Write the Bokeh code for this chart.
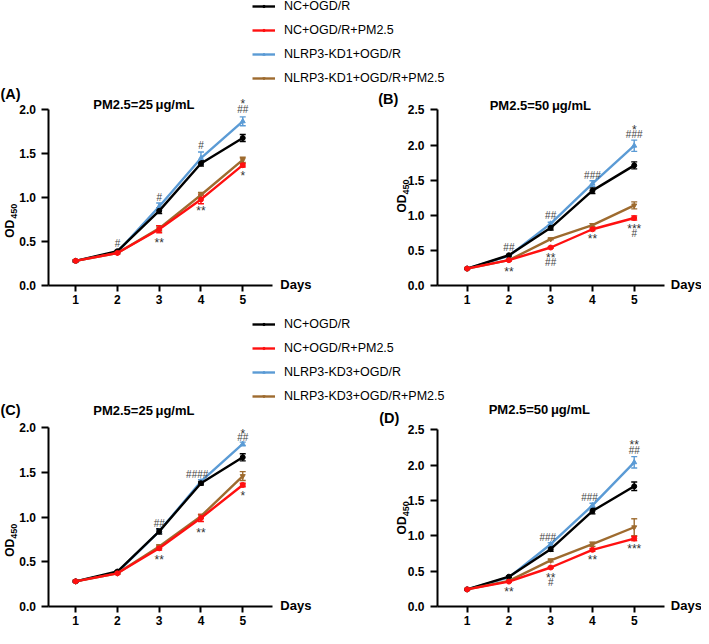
import math
from bokeh.plotting import figure
from bokeh.models import (ColumnDataSource, Range1d, Whisker, TeeHead, Label,
                          Legend, LegendItem, PrintfTickFormatter)
from bokeh.layouts import column, row
from bokeh.embed import file_html
from bokeh.resources import INLINE
from bokeh.core.properties import value

# ---------------- data ----------------
days = [1, 2, 3, 4, 5]
groups_kd1 = ["NC+OGD/R", "NC+OGD/R+PM2.5", "NLRP3-KD1+OGD/R", "NLRP3-KD1+OGD/R+PM2.5"]
groups_kd3 = ["NC+OGD/R", "NC+OGD/R+PM2.5", "NLRP3-KD3+OGD/R", "NLRP3-KD3+OGD/R+PM2.5"]

# Panel A: KD1, PM2.5 = 25 ug/mL
a_nc = [0.28, 0.39, 0.85, 1.39, 1.68]
a_nc_err = [0.01, 0.01, 0.03, 0.03, 0.04]
a_ncpm = [0.28, 0.37, 0.64, 0.98, 1.37]
a_ncpm_err = [0.01, 0.01, 0.04, 0.05, 0.02]
a_kd = [0.28, 0.38, 0.90, 1.45, 1.87]
a_kd_err = [0.01, 0.01, 0.04, 0.07, 0.05]
a_kdpm = [0.28, 0.37, 0.65, 1.03, 1.43]
a_kdpm_err = [0.01, 0.01, 0.03, 0.03, 0.03]

# Panel B: KD1, PM2.5 = 50 ug/mL
b_nc = [0.24, 0.43, 0.82, 1.35, 1.71]
b_nc_err = [0.01, 0.01, 0.03, 0.04, 0.05]
b_ncpm = [0.24, 0.36, 0.54, 0.80, 0.96]
b_ncpm_err = [0.01, 0.01, 0.01, 0.02, 0.03]
b_kd = [0.24, 0.42, 0.88, 1.45, 1.99]
b_kd_err = [0.01, 0.01, 0.02, 0.04, 0.08]
b_kdpm = [0.24, 0.36, 0.66, 0.86, 1.14]
b_kdpm_err = [0.01, 0.01, 0.01, 0.02, 0.05]

# Panel C: KD3, PM2.5 = 25 ug/mL
c_nc = [0.28, 0.39, 0.84, 1.38, 1.67]
c_nc_err = [0.01, 0.01, 0.03, 0.02, 0.04]
c_ncpm = [0.28, 0.37, 0.65, 0.99, 1.36]
c_ncpm_err = [0.01, 0.01, 0.02, 0.04, 0.02]
c_kd = [0.28, 0.38, 0.84, 1.40, 1.82]
c_kd_err = [0.01, 0.01, 0.02, 0.02, 0.02]
c_kdpm = [0.28, 0.37, 0.67, 1.01, 1.46]
c_kdpm_err = [0.01, 0.01, 0.02, 0.02, 0.05]

# Panel D: KD3, PM2.5 = 50 ug/mL
d_nc = [0.24, 0.42, 0.81, 1.35, 1.70]
d_nc_err = [0.01, 0.01, 0.03, 0.04, 0.06]
d_ncpm = [0.24, 0.35, 0.55, 0.80, 0.96]
d_ncpm_err = [0.01, 0.01, 0.01, 0.02, 0.03]
d_kd = [0.24, 0.41, 0.88, 1.43, 2.04]
d_kd_err = [0.01, 0.01, 0.02, 0.03, 0.08]
d_kdpm = [0.24, 0.36, 0.65, 0.88, 1.12]
d_kdpm_err = [0.01, 0.01, 0.02, 0.03, 0.12]

# significance marks (day, OD, text)
a_stars = [(3, 0.52, "**"), (4, 0.88, "**"), (5, 2.10, "*"), (5, 1.285, "*")]
a_hashes = [(2, 0.48, "#"), (3, 1.00, "#"), (4, 1.60, "#"), (5, 2.00, "##")]
b_stars = [(2, 0.24, "**"), (3, 0.435, "**"), (4, 0.70, "**"), (5, 2.26, "*"), (5, 0.84, "***")]
b_hashes = [(2, 0.54, "##"), (3, 1.00, "##"), (3, 0.33, "##"), (4, 1.57, "###"),
            (5, 2.15, "###"), (5, 0.735, "#")]
c_stars = [(3, 0.55, "**"), (4, 0.86, "**"), (5, 1.97, "*"), (5, 1.27, "*")]
c_hashes = [(3, 0.93, "##"), (3.91, 1.48, "####"), (5, 1.89, "##")]
d_stars = [(2, 0.245, "**"), (3, 0.44, "**"), (4, 0.705, "**"), (5, 2.33, "**"), (5, 0.85, "***")]
d_hashes = [(2.93, 0.98, "###"), (3, 0.34, "#"), (3.93, 1.54, "###"), (5, 2.21, "##")]

y_ticks_25 = [0.0, 0.5, 1.0, 1.5, 2.0]
y_ticks_50 = [0.0, 0.5, 1.0, 1.5, 2.0, 2.5]
title_25 = "PM2.5=25\u2009\u03bcg/mL"
title_50 = "PM2.5=50\u2009\u03bcg/mL"
x_title = "Days"
y_title = "OD"
y_title_sub = "450"

# ---------------- style ----------------
COLORS = ["#000000", "#ff1010", "#5b9bd5", "#9e6b2f"]
MARKERS = ["circle", "circle", "triangle", "inverted_triangle"]
DRAW_ORDER = [2, 0, 3, 1]
FONT = "Liberation Sans"
TOTAL_W, TOTAL_H = 701, 628
SX = TOTAL_W / 709
SY = TOTAL_H / 644


def build_panel(geo, series, errs, yticks, stars, hashes, letter, title, lab):
    fx0, fy0, fx1, fy1 = geo["fig"]
    W, H = geo["W"], geo["H"]
    ppd_ref = (geo["d5"] - geo["d1"]) / 4
    ppu_ref = (geo["y0"] - geo["ytick_px"]) / geo["ytick_val"]

    def to_data(px, py):
        return (1 + (px - geo["d1"]) / ppd_ref, (geo["y0"] - py) / ppu_ref)

    x_start = to_data(fx0, 0)[0]
    x_end = x_start + W / (ppd_ref * SX)
    y_top = to_data(0, fy0)[1]
    y_bot = y_top - H / (ppu_ref * SY)
    ax_x = to_data(geo["axis_x"], 0)[0]
    ax_end = to_data(geo["axis_end"], 0)[0]

    p = figure(width=W, height=H, x_range=Range1d(x_start, x_end),
               y_range=Range1d(y_bot, y_top), output_backend="svg",
               toolbar_location=None, title=None, min_border=0,
               min_border_left=0, min_border_right=0,
               min_border_top=0, min_border_bottom=0)
    p.outline_line_color = None
    p.xgrid.visible = False
    p.ygrid.visible = False
    p.background_fill_color = "white"
    p.border_fill_color = "white"

    xa = p.xaxis[0]
    xa.fixed_location = 0
    xa.bounds = (ax_x, ax_end)
    xa.ticker = days
    xa.major_tick_out = 6
    xa.major_tick_in = 0
    xa.minor_tick_line_color = None
    xa.axis_line_width = 2
    xa.major_tick_line_width = 2
    xa.major_label_standoff = 4
    xa.major_label_text_font = FONT
    xa.major_label_text_font_style = "bold"
    xa.major_label_text_font_size = "12px"
    xa.major_label_text_color = "black"

    ya = p.yaxis[0]
    ya.fixed_location = ax_x
    ya.ticker = yticks
    ya.formatter = PrintfTickFormatter(format="%.1f")
    ya.bounds = (0, yticks[-1])
    ya.major_tick_out = 7
    ya.major_tick_in = 0
    ya.minor_tick_line_color = None
    ya.axis_line_width = 2
    ya.major_tick_line_width = 2
    ya.major_label_standoff = 6
    ya.major_label_text_font = FONT
    ya.major_label_text_font_style = "bold"
    ya.major_label_text_font_size = "12px"
    ya.major_label_text_color = "black"

    for i in DRAW_ORDER:
        vals, err = series[i], errs[i]
        src = ColumnDataSource(dict(x=days, y=vals,
                                    upper=[v + e for v, e in zip(vals, err)],
                                    lower=[v - e for v, e in zip(vals, err)]))
        c = COLORS[i]
        p.line("x", "y", source=src, line_color=c, line_width=2.4)
        p.add_layout(Whisker(source=src, base="x", upper="upper", lower="lower",
                             line_color=c, line_width=1.4,
                             upper_head=TeeHead(size=6, line_color=c, line_width=1.4),
                             lower_head=TeeHead(size=6, line_color=c, line_width=1.4)))
        p.scatter("x", "y", source=src, marker=MARKERS[i], size=5, color=c)

    ssrc = ColumnDataSource(dict(x=[s[0] for s in stars], y=[s[1] for s in stars],
                                 t=[s[2] for s in stars]))
    p.text(x="x", y="y", text="t", source=ssrc, text_align="center",
           text_baseline="middle", text_font=value(FONT), text_font_size="12px",
           text_color="#333333", y_offset=3)
    hsrc = ColumnDataSource(dict(x=[s[0] for s in hashes], y=[s[1] for s in hashes],
                                 t=[s[2] for s in hashes]))
    p.text(x="x", y="y", text="t", source=hsrc, text_align="center",
           text_baseline="middle", text_font=value(FONT), text_font_size="10px",
           text_color="#444444")

    def add_label(pos, text, size, align="center", angle=0.0, bold=True):
        x, y = to_data(*pos)
        p.add_layout(Label(x=x, y=y, text=text, text_font=FONT, text_font_size=size,
                           text_font_style="bold" if bold else "normal",
                           text_align=align, text_baseline="middle",
                           text_color="black", angle=angle))

    add_label(lab["letter"], letter, "14.5px", align="left")
    add_label(lab["title"], title, "13px")
    add_label(lab["days"], x_title, "13px", align="left")
    add_label(lab["od"], y_title, "12px", angle=math.pi / 2)
    add_label(lab["sub"], y_title_sub, "9px", angle=math.pi / 2)
    return p


def legend_fig(H, groups, series, first_row_ref, fig_y0_ref):
    # ranges far from the data so that only the legend samples are visible
    p = figure(width=TOTAL_W, height=H, x_range=Range1d(-20, -19), y_range=Range1d(-20, -19),
               x_axis_type=None, y_axis_type=None, min_border=0, title=None,
               output_backend="svg", toolbar_location=None)
    p.outline_line_color = None
    items = []
    for g, c, m, vals in zip(groups, COLORS, MARKERS, series):
        ln = p.line(x=days, y=vals, line_color=c, line_width=2.4)
        sc = p.scatter(x=days, y=vals, marker=m, size=2.5, color=c)
        items.append(LegendItem(label=g, renderers=[ln, sc]))
    row_h, gap = 14, 10
    total = 4 * row_h + 3 * gap
    center = (first_row_ref - fig_y0_ref) * SY
    top = center - row_h / 2
    y_loc = H - top - total
    leg = Legend(items=items, location=(round(255 * SX), round(y_loc)),
                 glyph_width=23, glyph_height=6, label_height=row_h,
                 spacing=gap, label_standoff=9, padding=0, margin=0,
                 border_line_color=None, background_fill_alpha=0,
                 label_text_font=FONT, label_text_font_size="12.5px",
                 label_text_color="black")
    p.add_layout(leg)
    return p


W_LEFT = round(350 * SX)
W_RIGHT = TOTAL_W - W_LEFT

GEO_A = dict(fig=(0, 88, 350, 320), W=W_LEFT, H=226, axis_x=49, axis_end=275, d1=76, d5=245,
             y0=292, ytick_px=112, ytick_val=2.0)
GEO_B = dict(fig=(350, 88, 709, 320), W=W_RIGHT, H=226, axis_x=442, axis_end=672, d1=472, d5=641,
             y0=292, ytick_px=112, ytick_val=2.5)
GEO_C = dict(fig=(0, 413, 350, 644), W=W_LEFT, H=225, axis_x=49, axis_end=275, d1=76, d5=245,
             y0=621, ytick_px=438, ytick_val=2.0)
GEO_D = dict(fig=(350, 413, 709, 644), W=W_RIGHT, H=225, axis_x=442, axis_end=672, d1=472, d5=641,
             y0=621, ytick_px=440, ytick_val=2.5)

LAB_A = dict(letter=(0, 96), title=(145, 106), days=(283, 291), od=(9.5, 234), sub=(13.5, 216))
LAB_B = dict(letter=(382, 101), title=(546, 107), days=(678, 291), od=(406, 208), sub=(410, 191))
LAB_C = dict(letter=(0, 420), title=(145, 420), days=(283, 620), od=(9.5, 561), sub=(13.5, 544))
LAB_D = dict(letter=(383, 428), title=(545, 419), days=(678, 620), od=(406, 538), sub=(410, 521))

pA = build_panel(GEO_A, [a_nc, a_ncpm, a_kd, a_kdpm], [a_nc_err, a_ncpm_err, a_kd_err, a_kdpm_err],
                 y_ticks_25, a_stars, a_hashes, "(A)", title_25, LAB_A)
pB = build_panel(GEO_B, [b_nc, b_ncpm, b_kd, b_kdpm], [b_nc_err, b_ncpm_err, b_kd_err, b_kdpm_err],
                 y_ticks_50, b_stars, b_hashes, "(B)", title_50, LAB_B)
pC = build_panel(GEO_C, [c_nc, c_ncpm, c_kd, c_kdpm], [c_nc_err, c_ncpm_err, c_kd_err, c_kdpm_err],
                 y_ticks_25, c_stars, c_hashes, "(C)", title_25, LAB_C)
pD = build_panel(GEO_D, [d_nc, d_ncpm, d_kd, d_kdpm], [d_nc_err, d_ncpm_err, d_kd_err, d_kdpm_err],
                 y_ticks_50, d_stars, d_hashes, "(D)", title_50, LAB_D)

leg1 = legend_fig(86, groups_kd1, [a_nc, a_ncpm, a_kd, a_kdpm], 6, 0)
leg2 = legend_fig(91, groups_kd3, [c_nc, c_ncpm, c_kd, c_kdpm], 332, 320)

layout = column(leg1, row(pA, pB), leg2, row(pC, pD))
open("out.html", "w").write(file_html(layout, INLINE))
